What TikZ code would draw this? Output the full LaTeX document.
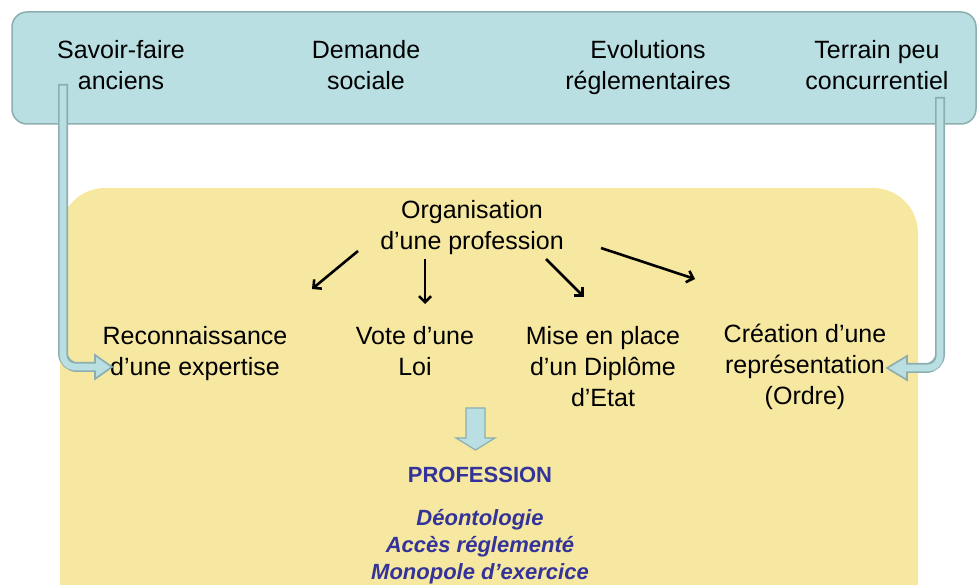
\documentclass[tikz,border=0pt]{standalone}
\usepackage{fontspec}
\setmainfont{Liberation Sans}
\usetikzlibrary{arrows.meta}
\definecolor{boxblue}{HTML}{B9DFE2}
\definecolor{boxedge}{HTML}{8DAEB1}
\definecolor{boxyellow}{HTML}{F6E8A0}
\definecolor{profblue}{HTML}{333399}
\tikzset{
    txt/.style={align=center, anchor=north, inner sep=0pt, font=\fontsize{25}{31}\selectfont},
    arr/.style={line width=2.6pt, -{Straight Barb[length=6pt, width=12pt]}},
    shaftout/.style={line width=10pt, draw=boxedge, rounded corners=14pt},
    shaftin/.style={line width=6.6pt, draw=boxblue, rounded corners=12pt},
    head/.style={fill=boxblue, draw=boxedge, line width=1.7pt, line join=miter}
}
\begin{document}
\begin{tikzpicture}[x=1pt, y=-1pt]
    \useasboundingbox (0,0) rectangle (978,585);
    \clip (0,0) rectangle (978,585);
    \fill[boxyellow, rounded corners=45pt] (60,188) rectangle (918,650);
    \filldraw[fill=boxblue, draw=boxedge, line width=1.5pt, rounded corners=15pt] (12,12) rectangle (976,124);
    % top row
    \node[txt] (sav) at (121,40) {Savoir-faire\\anciens};
    \node[txt] (dem) at (366,40) {Demande\\sociale};
    \node[txt] (evo) at (648,40) {Evolutions\\réglementaires};
    \node[txt] (ter) at (877,40) {Terrain peu\\concurrentiel};
    % organisation
    \node[txt] (org) at (472,200) {Organisation\\d’une profession};
    \node[txt] (rec) at (195,326) {Reconnaissance\\d’une expertise};
    \node[txt] (vot) at (415,326) {Vote d’une\\Loi};
    \node[txt] (mis) at (603,326) {Mise en place\\d’un Diplôme\\d’Etat};
    \node[txt] (cre) at (805,324) {Création d’une\\représentation\\(Ordre)};
    \coordinate (o1) at (358,251); \coordinate (t1) at (312,289);
    \coordinate (o2) at (425,259); \coordinate (t2) at (425,304);
    \coordinate (o3) at (546,259); \coordinate (t3) at (584,297);
    \coordinate (o4) at (601,248); \coordinate (t4) at (695,279);
    \draw[arr] (o1) -- (t1);
    \draw[arr] (o2) -- (t2);
    \draw[arr] (o3) -- (t3);
    \draw[arr] (o4) -- (t4);
    % hollow connectors
    \coordinate (savfoot) at (63,84); \coordinate (recin) at (112,367);
    \coordinate (terfoot) at (940,97); \coordinate (crein) at (887,368);
    \draw[shaftout] (savfoot) |- (97,367);
    \filldraw[head] (95,355) -- (recin) -- (95,379) -- cycle;
    \draw[shaftin] (63,85.7) |- (100,367);
    \draw[shaftout] (terfoot) |- (905,368);
    \filldraw[head] (907,356) -- (crein) -- (907,380) -- cycle;
    \draw[shaftin] (940,98.7) |- (904,368);
    % profession
    \filldraw[head, line width=1.2pt] (466,408) -- (485,408) -- (485,438) -- (495,438) -- (475.5,450) -- (456,438) -- (466,438) -- cycle;
    \node[txt, font=\fontsize{22}{27}\selectfont\bfseries, text=profblue] (prof) at (480,467) {PROFESSION};
    \node[txt, font=\fontsize{22}{27}\selectfont\bfseries\itshape, text=profblue] (traits) at (480,509) {Déontologie\\Accès réglementé\\Monopole d’exercice};
\end{tikzpicture}
\end{document}
